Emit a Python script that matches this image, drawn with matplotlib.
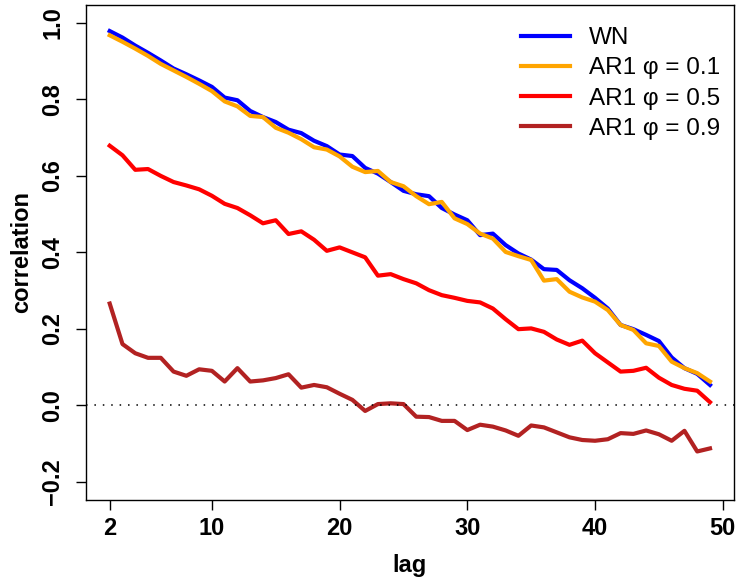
import matplotlib
matplotlib.use("Agg")
import matplotlib.pyplot as plt
import numpy as np

plt.rcParams['font.family'] = ['Liberation Sans', 'DejaVu Sans']

lags = list(range(2, 50))

wn = [0.979, 0.962, 0.941, 0.922, 0.902, 0.881, 0.866, 0.850, 0.833, 0.805,
      0.798, 0.770, 0.754, 0.741, 0.721, 0.712, 0.692, 0.678, 0.656, 0.652,
      0.621, 0.606, 0.584, 0.561, 0.552, 0.547, 0.516, 0.499, 0.484, 0.445,
      0.449, 0.419, 0.397, 0.381, 0.356, 0.354, 0.327, 0.306, 0.281, 0.253,
      0.210, 0.199, 0.184, 0.168, 0.125, 0.097, 0.082, 0.053]

ar01 = [0.968, 0.951, 0.933, 0.914, 0.893, 0.876, 0.859, 0.841, 0.822, 0.795,
        0.782, 0.757, 0.754, 0.726, 0.713, 0.696, 0.675, 0.669, 0.651, 0.624,
        0.610, 0.613, 0.584, 0.573, 0.547, 0.526, 0.532, 0.489, 0.474, 0.449,
        0.436, 0.401, 0.390, 0.380, 0.326, 0.330, 0.297, 0.282, 0.271, 0.249,
        0.210, 0.197, 0.162, 0.155, 0.114, 0.097, 0.084, 0.062]

ar05 = [0.679, 0.654, 0.616, 0.618, 0.600, 0.584, 0.575, 0.565, 0.548, 0.527,
        0.516, 0.497, 0.476, 0.484, 0.448, 0.455, 0.433, 0.404, 0.413, 0.400,
        0.387, 0.339, 0.343, 0.330, 0.319, 0.301, 0.288, 0.281, 0.273, 0.269,
        0.253, 0.225, 0.199, 0.201, 0.192, 0.172, 0.158, 0.169, 0.136, 0.112,
        0.088, 0.090, 0.098, 0.072, 0.053, 0.043, 0.038, 0.008]

ar09 = [0.266, 0.160, 0.136, 0.124, 0.124, 0.088, 0.077, 0.094, 0.090, 0.062,
        0.097, 0.062, 0.065, 0.071, 0.081, 0.046, 0.053, 0.047, 0.030, 0.014,
        -0.015, 0.003, 0.005, 0.003, -0.030, -0.031, -0.041, -0.041, -0.065, -0.051,
        -0.056, -0.066, -0.080, -0.053, -0.058, -0.071, -0.084, -0.091, -0.093, -0.089,
        -0.073, -0.075, -0.066, -0.076, -0.093, -0.067, -0.121, -0.113]

series_labels = ["WN", "AR1 \u03c6 = 0.1", "AR1 \u03c6 = 0.5", "AR1 \u03c6 = 0.9"]
series_colors = ["#0000FF", "#FFA500", "#FF0000", "#B22222"]
xticks = [2, 10, 20, 30, 40, 50]
yticks = [-0.2, 0.0, 0.2, 0.4, 0.6, 0.8, 1.0]

fig = plt.figure(figsize=(7.38, 5.78), dpi=100)
ax = fig.add_axes([85.7 / 738, 78 / 578, (734 - 85.7) / 738, (500 - 4.7) / 578])

for vals, lab, col in zip([wn, ar01, ar05, ar09], series_labels, series_colors):
    ax.plot(lags, vals, color=col, lw=3.0, label=lab, solid_joinstyle='round')

ax.axhline(0, color='black', lw=1.1, linestyle=(0, (1, 4.5)))

xr = (min(lags), max(lags))
pad = 0.04 * (xr[1] - xr[0])
ax.set_xlim(xr[0] - pad, xr[1] + pad)
ax.set_ylim(-0.2 - 0.048, 1.0 + 0.048)
ax.set_xticks(xticks)
ax.set_xticklabels([str(t) for t in xticks], fontweight='bold', fontsize=17)
ax.set_yticks(yticks)
ax.set_yticklabels([f"{t:.1f}".replace('-', '\u2212') for t in yticks],
                   fontweight='bold', fontsize=17, rotation=90, va='center')
ax.tick_params(direction='out', length=7.5, width=1)
ax.tick_params(axis='x', pad=5)
ax.tick_params(axis='y', pad=8)
for sp in ax.spines.values():
    sp.set_linewidth(1)

ax.set_xlabel("lag", fontweight='bold', fontsize=17, labelpad=9.5)
ax.set_ylabel("correlation", fontweight='bold', fontsize=17, labelpad=6)

leg = ax.legend(loc='upper left', bbox_to_anchor=(521 / 738, 1 - 27 / 578),
                bbox_transform=fig.transFigure, frameon=False, fontsize=17.5,
                handlelength=2.0, handletextpad=0.8, labelspacing=0.34,
                borderpad=0, borderaxespad=0)

fig.savefig("out.png", dpi=100)
